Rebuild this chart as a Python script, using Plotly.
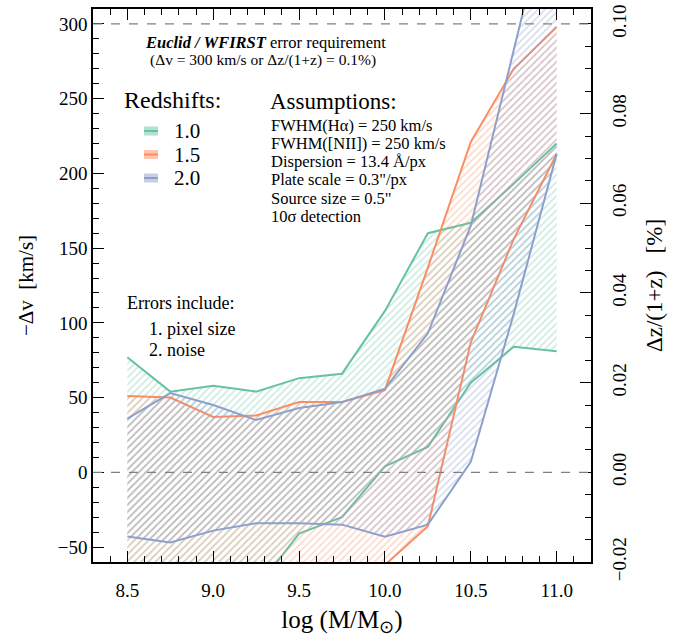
import plotly.graph_objects as go

# ---- data ----
log_mass = [8.5, 8.75, 9.0, 9.25, 9.5, 9.75, 10.0, 10.25, 10.5, 10.75, 11.0]
z10_upper = [77, 54, 58, 54, 63, 66, 108, 160, 167, 193, 220]
z10_lower = [-150, -130, -110, -78, -41, -30, 4, 17, 60, 84, 81]
z15_upper = [51, 50, 37, 38, 47, 47, 55, 137, 221, 270, 298]
z15_lower = [-160, -150, -140, -120, -100, -80, -62, -36, 87, 156, 213]
z20_upper = [36, 53, 45, 35, 43, 47, 56, 93, 165, 282, 400]
z20_lower = [-43, -47, -39, -34, -34, -35, -43, -35, 7, 106, 213]
redshift_labels = ["1.0", "1.5", "2.0"]
reference_levels = [0, 300]
assumptions = [
    "FWHM(Hα) = 250 km/s",
    "FWHM([NII]) = 250 km/s",
    "Dispersion = 13.4 Å/px",
    "Plate scale = 0.3\"/px",
    "Source size = 0.5\"",
    "10σ detection",
]
errors = ["1. pixel size", "2. noise"]

FONT = "Liberation Serif"
colors = ["#66c2a5", "#fc8d62", "#8da0cb"]
hatch = ["rgba(102,194,165,0.7)", "rgba(252,141,98,0.7)", "rgba(141,160,203,0.75)"]
series = [(z10_lower, z10_upper), (z15_lower, z15_upper), (z20_lower, z20_upper)]

fig = go.Figure()
for (lo, up), c, h in zip(series, colors, hatch):
    fig.add_trace(go.Scatter(x=log_mass, y=lo, mode="lines",
                             line=dict(color=c, width=2), showlegend=False))
    fig.add_trace(go.Scatter(x=log_mass, y=up, mode="lines", fill="tonexty",
                             fillcolor="rgba(0,0,0,0)",
                             fillpattern=dict(shape="/", fgcolor=h, bgcolor="rgba(0,0,0,0)",
                                              size=5, solidity=0.33, fillmode="overlay"),
                             line=dict(color=c, width=2), showlegend=False))

# secondary axis carrier (invisible)
fig.add_trace(go.Scatter(x=[log_mass[0]], y=[0], yaxis="y2", mode="markers",
                         marker=dict(opacity=0), showlegend=False, hoverinfo="skip"))

for lvl in reference_levels:
    fig.add_shape(type="line", xref="paper", x0=0, x1=1, yref="y", y0=lvl, y1=lvl,
                  line=dict(color="#808080", width=1.2, dash="dash"))

tickfont = dict(family=FONT, size=19, color="black")
fig.update_layout(
    width=678, height=637,
    margin=dict(l=93, r=87, t=9, b=75),
    paper_bgcolor="white", plot_bgcolor="white",
    font=dict(family=FONT, color="black"),
    xaxis=dict(range=[8.3, 11.2], tick0=8.5, dtick=0.5, tickformat=".1f", automargin=False,
               ticks="inside", ticklen=11, tickwidth=1.2, tickcolor="black",
               minor=dict(dtick=0.1, ticks="inside", ticklen=6, tickwidth=1, tickcolor="black"),
               showline=True, linecolor="black", linewidth=1.5, mirror="ticks",
               showgrid=False, zeroline=False, tickfont=tickfont, ticklabelstandoff=10,
               title=dict(text="log (M/M<sub>⊙</sub>)", font=dict(family=FONT, size=25), standoff=12)),
    yaxis=dict(range=[-60, 310], tick0=0, dtick=50, automargin=False,
               ticks="inside", ticklen=11, tickwidth=1.2, tickcolor="black",
               minor=dict(dtick=10, ticks="inside", ticklen=6, tickwidth=1, tickcolor="black"),
               showline=True, linecolor="black", linewidth=1.5, mirror=False,
               showgrid=False, zeroline=False, tickfont=tickfont,
               title=dict(text="−Δv  [km/s]", font=dict(family=FONT, size=21), standoff=18)),
    yaxis2=dict(range=[-0.02, 310 / 3000], tick0=0, dtick=0.02, tickformat=".2f", automargin=False,
                overlaying="y", side="right", tickangle=-90,
                ticks="inside", ticklen=11, tickwidth=1.2, tickcolor="black",
                minor=dict(dtick=0.005, ticks="inside", ticklen=6, tickwidth=1, tickcolor="black"),
                showline=True, linecolor="black", linewidth=1.5,
                showgrid=False, zeroline=False, tickfont=tickfont, ticklabelstandoff=10,
                title=dict(text="Δz/(1+z)   [%]", font=dict(family=FONT, size=23), standoff=17)),
)

def px(xp):
    return (xp - 93) / 498

def py(yp):
    return (562 - yp) / 553

def note(text, x, y, size, xanchor="left"):
    fig.add_annotation(text=text, xref="paper", yref="paper", x=px(x), y=py(y),
                       xanchor=xanchor, yanchor="middle", showarrow=False,
                       font=dict(family=FONT, size=size, color="black"))

note("<b><i>Euclid / WFIRST</i></b> error requirement", 265, 43, 16.5, "center")
note("(Δv = 300 km/s or Δz/(1+z) = 0.1%)", 263, 60, 15.5, "center")
note("Redshifts:", 122, 100, 24)
note("Assumptions:", 268, 101, 23)
for i, t in enumerate(assumptions):
    note(t, 269, 125 + i * 18.3, 16.5)
note("Errors include:", 125, 303, 18)
for i, t in enumerate(errors):
    note(t, 147, 329 + i * 21, 18)

for i, (lab, c, h) in enumerate(zip(redshift_labels, colors, hatch)):
    yc = 131 + i * 23.5
    fig.add_shape(type="rect", xref="paper", yref="paper", x0=px(144), x1=px(158),
                  y0=py(yc + 4.5), y1=py(yc - 4.5), line=dict(width=0),
                  fillcolor=c, opacity=0.5)
    fig.add_shape(type="line", xref="paper", yref="paper", x0=px(144), x1=px(158),
                  y0=py(yc), y1=py(yc), line=dict(color=c, width=2))
    note(lab, 172, yc, 21)

fig.write_html("out.html", config={"displayModeBar": False},
               post_script="document.body.style.margin='0';")
